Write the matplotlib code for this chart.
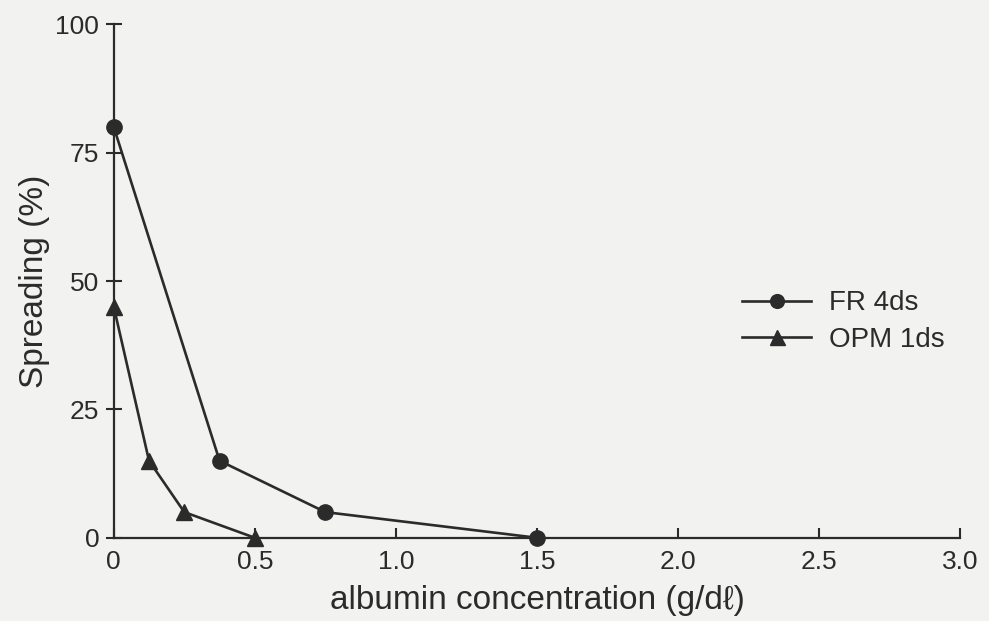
import matplotlib
matplotlib.use("Agg")
import matplotlib.pyplot as plt

# data
fr_x = [0.0, 0.375, 0.75, 1.5]
fr_y = [80, 15, 5, 0]
opm_x = [0.0, 0.125, 0.25, 0.5]
opm_y = [45, 15, 5, 0]
series_labels = ["FR 4ds", "OPM 1ds"]
xticks = [0, 0.5, 1.0, 1.5, 2.0, 2.5, 3.0]
xticklabels = ["0", "0.5", "1.0", "1.5", "2.0", "2.5", "3.0"]
yticks = [0, 25, 50, 75, 100]
yticklabels = ["0", "25", "50", "75", "100"]

plt.rcParams['font.family'] = ['Liberation Sans', 'DejaVu Sans']

bg = '#f2f2f0'
ink = '#2b2b2b'

fig = plt.figure(figsize=(9.89, 6.21), dpi=100, facecolor=bg)
ax = fig.add_axes([0.115, 0.134, 0.856, 0.827], facecolor=bg)

ax.plot(fr_x, fr_y, color=ink, lw=1.9, marker='o', ms=11, mfc=ink, mec=ink,
        label=series_labels[0], clip_on=False, zorder=3)
ax.plot(opm_x, opm_y, color=ink, lw=1.9, marker='^', ms=12, mfc=ink, mec=ink,
        label=series_labels[1], clip_on=False, zorder=3)

ax.set_xlim(0, 3.0)
ax.set_ylim(0, 100)
ax.set_xticks(xticks)
ax.set_xticklabels(xticklabels)
ax.set_yticks(yticks)
ax.set_yticklabels(yticklabels)

for s in ['top', 'right']:
    ax.spines[s].set_visible(False)
for s in ['left', 'bottom']:
    ax.spines[s].set_color(ink)
    ax.spines[s].set_linewidth(1.6)

ax.tick_params(axis='y', direction='inout', length=11, width=1.5, color=ink,
               labelsize=19, labelcolor=ink, pad=5)
ax.tick_params(axis='x', direction='in', length=7, width=1.5, color=ink,
               labelsize=19, labelcolor=ink, pad=9)

ax.set_xlabel("albumin concentration (g/dℓ)", fontsize=24, color=ink, labelpad=8)
ax.set_ylabel("Spreading (%)", fontsize=24, color=ink, labelpad=4)

leg = ax.legend(loc='center left', bbox_to_anchor=(0.742, 0.421), frameon=False,
                fontsize=20, handlelength=2.5, handletextpad=0.65, labelspacing=0.38,
                borderpad=0, borderaxespad=0, markerscale=0.9)
for t in leg.get_texts():
    t.set_color(ink)

fig.savefig("out.png", dpi=100, facecolor=bg)
